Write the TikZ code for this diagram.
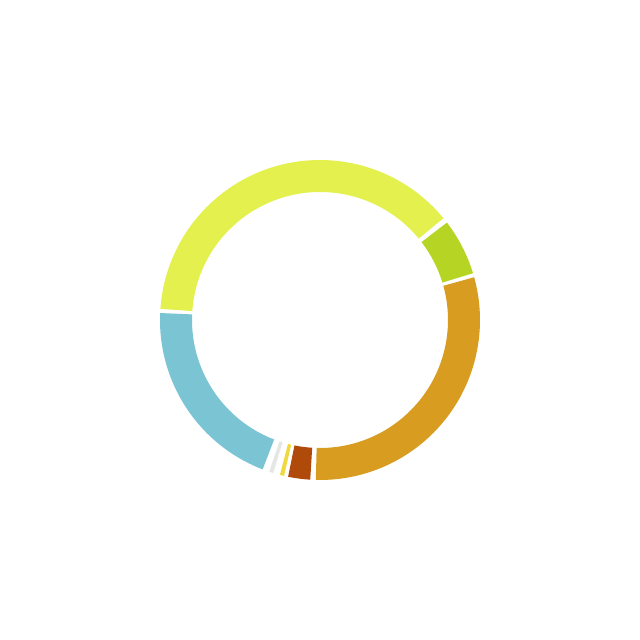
\documentclass[tikz,border=0pt]{standalone}
\begin{document}
\begin{tikzpicture}[x=0.015625cm,y=0.015625cm]
\useasboundingbox (0,0) rectangle (640,640);
\newcommand{\seg}[3]{\fill[#3] (320,320) ++(#1:160) arc[start angle=#1,end angle=#2,radius=160] -- ++(#2+180:32) arc[start angle=#2,end angle=#1,radius=128] -- cycle;}
\definecolor{cyg}{HTML}{E3F04E}
\definecolor{cg}{HTML}{B5D424}
\definecolor{co}{HTML}{D89C20}
\definecolor{cb}{HTML}{B04A0A}
\definecolor{cy}{HTML}{F0D840}
\definecolor{cgr}{HTML}{E6E6E6}
\definecolor{cbl}{HTML}{7BC4D4}
\seg{-91.5}{15.5}{co}
\seg{17}{37.5}{cg}
\seg{39.5}{176}{cyg}
\seg{177.5}{249}{cbl}
\seg{251.5}{253}{cgr}
\seg{255.5}{257}{cy}
\seg{258.5}{266.5}{cb}
\end{tikzpicture}
\end{document}
